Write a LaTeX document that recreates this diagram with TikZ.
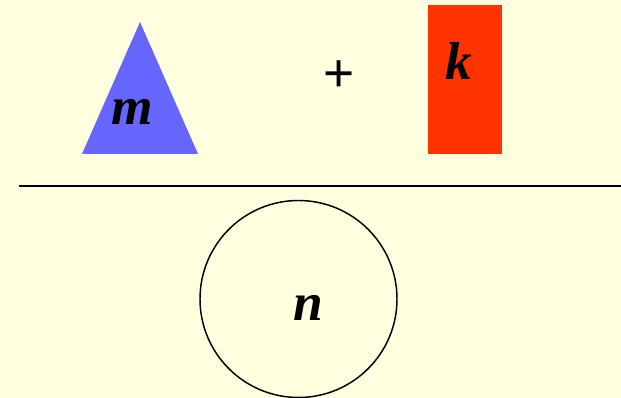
\documentclass[tikz,border=0pt]{standalone}
\usepackage{fontspec}
\setmainfont{Liberation Serif}
\newfontfamily\plusfont{Liberation Sans}
\usetikzlibrary{positioning}

\definecolor{bgyellow}{HTML}{FFFFE0}
\definecolor{triblue}{HTML}{6666FF}
\definecolor{boxred}{HTML}{FF3300}

\begin{document}
\begin{tikzpicture}[
  x=0.75pt, y=-0.75pt,
  var/.style={
    anchor=base, inner sep=0pt,
    font=\fontsize{40}{48}\selectfont\bfseries\itshape},
  op/.style={
    inner sep=0pt,
    font=\plusfont\fontsize{40}{48}\selectfont},
]

  % ── Background ──────────────────────────────────────────────────────────
  \fill[bgyellow] (0,0) rectangle (621,398);
  \useasboundingbox (0,0) rectangle (621,398);

  % ── Numerator: triangle + rectangle ─────────────────────────────────────
  \fill[triblue] (82,154) -- (198,154) -- (140,22) -- cycle;
  \fill[boxred]  (428,5) rectangle (502,154);

  \node[var] (m)    at (132,125) {m};
  \node[op]  (plus) at (339.5,76) {+};
  \node[var] (k)    at (459,80)  {k};

  % ── Fraction bar ────────────────────────────────────────────────────────
  \coordinate (barL) at (19,186);
  \coordinate (barR) at (621,186);
  \draw[line width=1.5pt] (barL) -- (barR);

  % ── Denominator: circle ─────────────────────────────────────────────────
  \draw[line width=1.1pt] (298.5,299) circle[radius=98.5];
  \node[var] (n) at (308,321) {n};

\end{tikzpicture}
\end{document}
